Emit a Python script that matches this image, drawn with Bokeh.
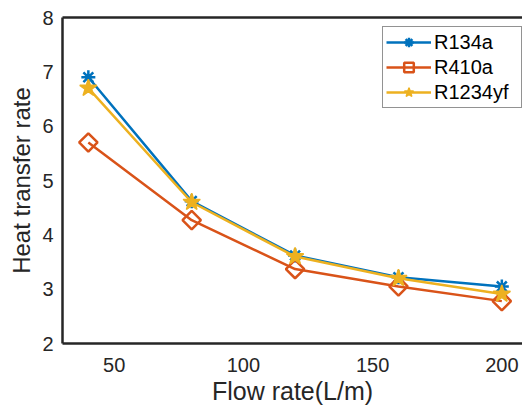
from bokeh.plotting import figure
from bokeh.models import LinearAxis, FixedTicker, Range1d, Legend
from bokeh.embed import file_html
from bokeh.resources import INLINE

# ---- data ----
flow = [40, 80, 120, 160, 200]
r134a = [6.9, 4.62, 3.62, 3.22, 3.05]
r410a = [5.7, 4.27, 3.37, 3.05, 2.78]
r1234yf = [6.7, 4.6, 3.6, 3.2, 2.91]
x_ticks = [50, 100, 150, 200]
y_ticks = [2, 3, 4, 5, 6, 7, 8]

FONT = "Liberation Sans"
AX = "#262626"
BLUE = "#0072BD"
ORANGE = "#D95319"
YELLOW = "#EDB120"

p = figure(width=522, height=407, output_backend="svg", toolbar_location=None,
           x_range=Range1d(30, 208), y_range=Range1d(2, 8),
           min_border_left=62, min_border_right=0, min_border_top=17, min_border_bottom=64)
p.outline_line_color = None
p.grid.visible = False
p.background_fill_color = "white"
p.border_fill_color = "white"

for ax in (p.xaxis[0], p.yaxis[0]):
    ax.axis_line_color = AX
    ax.axis_line_width = 2.5
    ax.major_tick_line_color = None
    ax.minor_tick_line_color = None
    ax.major_tick_out = 0
    ax.major_tick_in = 0
    ax.minor_tick_out = 0
    ax.minor_tick_in = 0
    ax.major_label_text_font = FONT
    ax.major_label_text_color = AX
    ax.major_label_text_font_size = "20px"
    ax.axis_label_text_font = FONT
    ax.axis_label_text_color = AX
    ax.axis_label_text_font_style = "normal"

p.xaxis[0].ticker = FixedTicker(ticks=x_ticks)
p.yaxis[0].ticker = FixedTicker(ticks=y_ticks)
p.xaxis[0].axis_label = "Flow rate(L/m)"
p.yaxis[0].axis_label = "Heat transfer rate"
p.xaxis[0].axis_label_text_font_size = "25px"
p.yaxis[0].axis_label_text_font_size = "24px"
p.xaxis[0].major_label_standoff = 14
p.xaxis[0].axis_label_standoff = 2
p.yaxis[0].major_label_standoff = 9
p.yaxis[0].axis_label_standoff = 4

top = LinearAxis(ticker=FixedTicker(ticks=[]), axis_line_color=AX, axis_line_width=2.5,
                 major_tick_line_color=None, minor_tick_line_color=None,
                 major_tick_out=0, major_tick_in=0, minor_tick_out=0, minor_tick_in=0)
p.add_layout(top, "above")

LW = 2.5
l1 = p.line(flow, r134a, line_color=BLUE, line_width=LW)
s1 = p.scatter(flow, r134a, marker="asterisk", size=14, line_color=BLUE, line_width=2.5)
l2 = p.line(flow, r410a, line_color=ORANGE, line_width=LW)
s2 = p.scatter(flow, r410a, marker="square", angle=0.785398, size=13, line_color=ORANGE,
               fill_color=None, line_width=2.5)
l3 = p.line(flow, r1234yf, line_color=YELLOW, line_width=LW)
s3 = p.scatter(flow, r1234yf, marker="star", size=18, line_color=YELLOW, fill_color=YELLOW,
               line_width=1.5)

legend = Legend(items=[("R134a", [l1, s1]), ("R410a", [l2, s2]), ("R1234yf", [l3, s3])],
                location=(320, 235))
legend.label_text_font = FONT
legend.label_text_font_size = "20px"
legend.label_text_color = "black"
legend.glyph_width = 45
legend.glyph_height = 24
legend.label_height = 24
legend.label_width = 84
legend.label_standoff = 3
legend.padding = 3
legend.spacing = 1
legend.margin = 0
legend.border_line_color = AX
legend.border_line_width = 1.5
legend.background_fill_color = "white"
legend.background_fill_alpha = 1.0
p.add_layout(legend, "center")

open("out.html", "w").write(file_html(p, INLINE))
